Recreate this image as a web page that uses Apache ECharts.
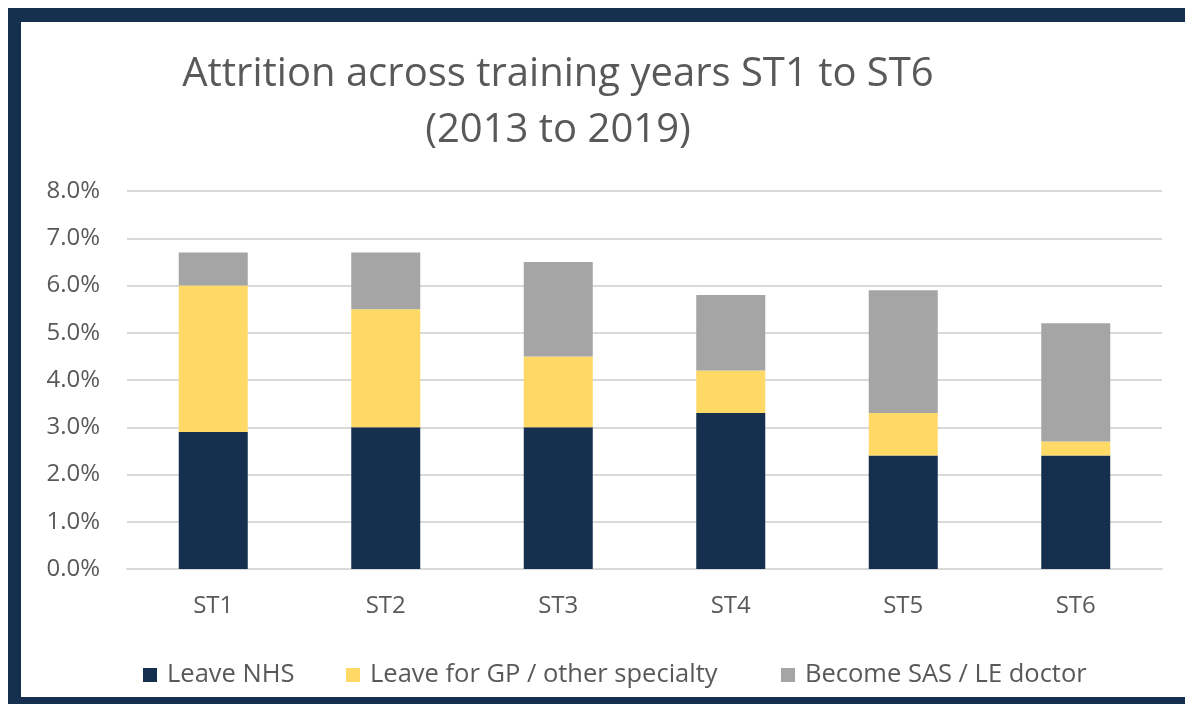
<!DOCTYPE html>
<html>
<head>
<meta charset="utf-8">
<title>Attrition across training years</title>
<script src="https://cdn.jsdelivr.net/npm/echarts@6/dist/echarts.min.js"></script>
<style>
  html, body { margin: 0; padding: 0; background: #fff; }
  #frame {
    position: absolute; left: 8px; top: 8px; width: 1177px; height: 675px;
    border-left: 13px solid #15304f; border-top: 14px solid #15304f; border-bottom: 7px solid #15304f;
  }
  #main { position: absolute; left: 0; top: 0; width: 1185px; height: 704px; }
</style>
</head>
<body>
<div id="frame"></div>
<div id="main"></div>
<script>
// chart data (percent)
const categories = ["ST1", "ST2", "ST3", "ST4", "ST5", "ST6"];
const leaveNHS = [2.9, 3.0, 3.0, 3.3, 2.4, 2.4];
const leaveGP = [3.1, 2.5, 1.5, 0.9, 0.9, 0.3];
const becomeSAS = [0.7, 1.2, 2.0, 1.6, 2.6, 2.5];
const seriesNames = ["Leave NHS", "Leave for GP / other specialty", "Become SAS / LE doctor"];
const colors = ["#15304f", "#ffd966", "#a5a5a5"];

const fontFam = "'Open Sans', 'Noto Sans', sans-serif";
const textColor = "#595959";

var chart = echarts.init(document.getElementById("main"));

// one legend per series so each entry sits where the original has it
const legendLefts = [138, 341, 776];
var legends = seriesNames.map(function (name, i) {
  return {
    bottom: 11,
    left: legendLefts[i],
    itemWidth: 14,
    itemHeight: 14,
    icon: "rect",
    textStyle: { fontFamily: fontFam, fontSize: 25.5, color: textColor, padding: [0, 0, 0, 5] },
    data: [name]
  };
});

var option = {
  animation: false,
  color: colors,
  title: {
    text: "Attrition across training years ST1 to ST6\n(2013 to 2019)",
    left: 553,
    top: 42,
    textAlign: "center",
    textStyle: {
      fontFamily: fontFam,
      fontWeight: "normal",
      fontSize: 40,
      lineHeight: 56,
      color: textColor
    }
  },
  legend: legends,
  grid: { left: 127, right: 23, top: 191, bottom: 135 },
  xAxis: {
    type: "category",
    data: categories,
    axisTick: { show: false },
    axisLine: { lineStyle: { color: "#d9d9d9", width: 2 } },
    axisLabel: { margin: 25, fontFamily: fontFam, fontSize: 24, color: textColor }
  },
  yAxis: {
    type: "value",
    min: 0,
    max: 8,
    interval: 1,
    axisLabel: {
      margin: 27,
      fontFamily: fontFam,
      fontSize: 24,
      color: textColor,
      formatter: function (v) { return v.toFixed(1) + "%"; }
    },
    splitLine: { lineStyle: { color: "#d9d9d9", width: 2 } }
  },
  series: [
    { name: seriesNames[0], type: "bar", stack: "total", barWidth: "40%", data: leaveNHS },
    { name: seriesNames[1], type: "bar", stack: "total", barWidth: "40%", data: leaveGP },
    { name: seriesNames[2], type: "bar", stack: "total", barWidth: "40%", data: becomeSAS }
  ]
};

chart.setOption(option);
</script>
</body>
</html>
